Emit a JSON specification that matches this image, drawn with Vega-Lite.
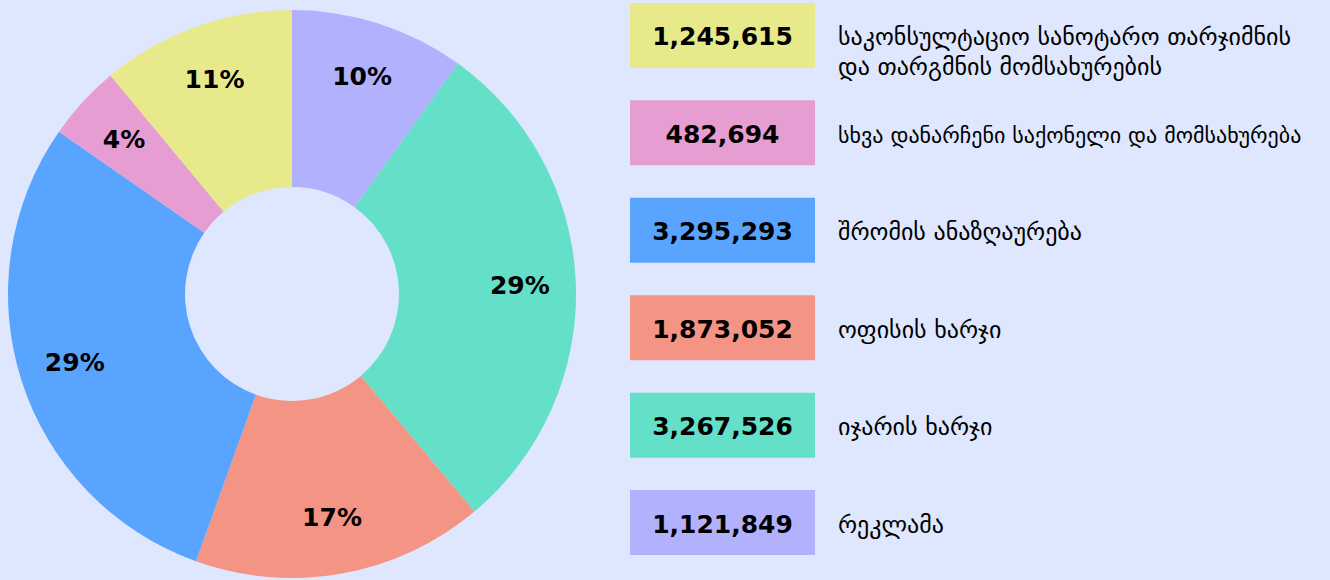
{
  "$schema": "https://vega.github.io/schema/vega-lite/v6.json",
  "background": "#DEE7FE",
  "padding": 0,
  "spacing": 46,
  "config": {"view": {"stroke": null}},
  "data": {
    "values": [
      {"cat": "რეკლამა", "value": 1121849, "idx": 1},
      {"cat": "იჯარის ხარჯი", "value": 3267526, "idx": 2},
      {"cat": "ოფისის ხარჯი", "value": 1873052, "idx": 3},
      {"cat": "შრომის ანაზღაურება", "value": 3295293, "idx": 4},
      {"cat": "სხვა დანარჩენი საქონელი და მომსახურება", "value": 482694, "idx": 5},
      {"cat": "საკონსულტაციო სანოტარო თარჯიმნის\nდა თარგმნის მომსახურების", "value": 1245615, "idx": 6}
    ]
  },
  "hconcat": [
    {
      "width": 584,
      "height": 588,
      "transform": [
        {"joinaggregate": [{"op": "sum", "field": "value", "as": "total"}]},
        {"calculate": "datum.value / datum.total", "as": "pct"}
      ],
      "layer": [
        {
          "mark": {"type": "arc", "outerRadius": 284, "innerRadius": 107},
          "encoding": {
            "theta": {"field": "value", "type": "quantitative", "stack": true},
            "order": {"field": "idx", "type": "quantitative"},
            "color": {
              "field": "cat", "type": "nominal", "legend": null,
              "scale": {
                "domain": ["რეკლამა", "იჯარის ხარჯი", "ოფისის ხარჯი", "შრომის ანაზღაურება", "სხვა დანარჩენი საქონელი და მომსახურება", "საკონსულტაციო სანოტარო თარჯიმნის\nდა თარგმნის მომსახურების"],
                "range": ["#B1B1FD", "#64DFC8", "#F49484", "#58A4FE", "#E69ED2", "#E8E98A"]
              }
            }
          }
        },
        {
          "mark": {"type": "text", "radius": 228, "font": "DejaVu Sans", "fontWeight": "bold", "fontSize": 25, "align": "center", "baseline": "middle"},
          "encoding": {
            "theta": {"field": "value", "type": "quantitative", "stack": true},
            "order": {"field": "idx", "type": "quantitative"},
            "detail": {"field": "cat", "type": "nominal"},
            "text": {"field": "pct", "type": "quantitative", "format": ".0%"},
            "color": {"value": "black"}
          }
        }
      ]
    },
    {
      "width": 700,
      "height": 558,
      "encoding": {
        "y": {
          "field": "cat", "type": "nominal",
          "sort": {"field": "idx", "order": "descending"},
          "scale": {"paddingInner": 0.333, "paddingOuter": 0.03},
          "axis": null
        }
      },
      "layer": [
        {
          "mark": {"type": "bar"},
          "encoding": {
            "x": {"datum": 0, "type": "quantitative", "scale": {"domain": [0, 700], "nice": false, "zero": false}, "axis": null},
            "x2": {"datum": 185},
            "color": {
              "field": "cat", "type": "nominal", "legend": null,
              "scale": {
                "domain": ["რეკლამა", "იჯარის ხარჯი", "ოფისის ხარჯი", "შრომის ანაზღაურება", "სხვა დანარჩენი საქონელი და მომსახურება", "საკონსულტაციო სანოტარო თარჯიმნის\nდა თარგმნის მომსახურების"],
                "range": ["#B1B1FD", "#64DFC8", "#F49484", "#58A4FE", "#E69ED2", "#E8E98A"]
              }
            }
          }
        },
        {
          "mark": {"type": "text", "font": "DejaVu Sans", "fontWeight": "bold", "fontSize": 25, "align": "center", "baseline": "middle", "color": "black", "dy": 2},
          "encoding": {
            "x": {"datum": 92.5, "type": "quantitative"},
            "text": {"field": "value", "type": "quantitative", "format": ",d"}
          }
        },
        {
          "mark": {"type": "text", "font": "DejaVu Sans", "align": "left", "baseline": "middle", "color": "black", "lineBreak": "\n", "lineHeight": 30, "dy": 3},
          "encoding": {
            "x": {"datum": 208, "type": "quantitative"},
            "text": {"field": "cat", "type": "nominal"},
            "size": {"condition": {"test": "datum.idx == 5", "value": 22}, "value": 24}
          }
        }
      ]
    }
  ]
}
